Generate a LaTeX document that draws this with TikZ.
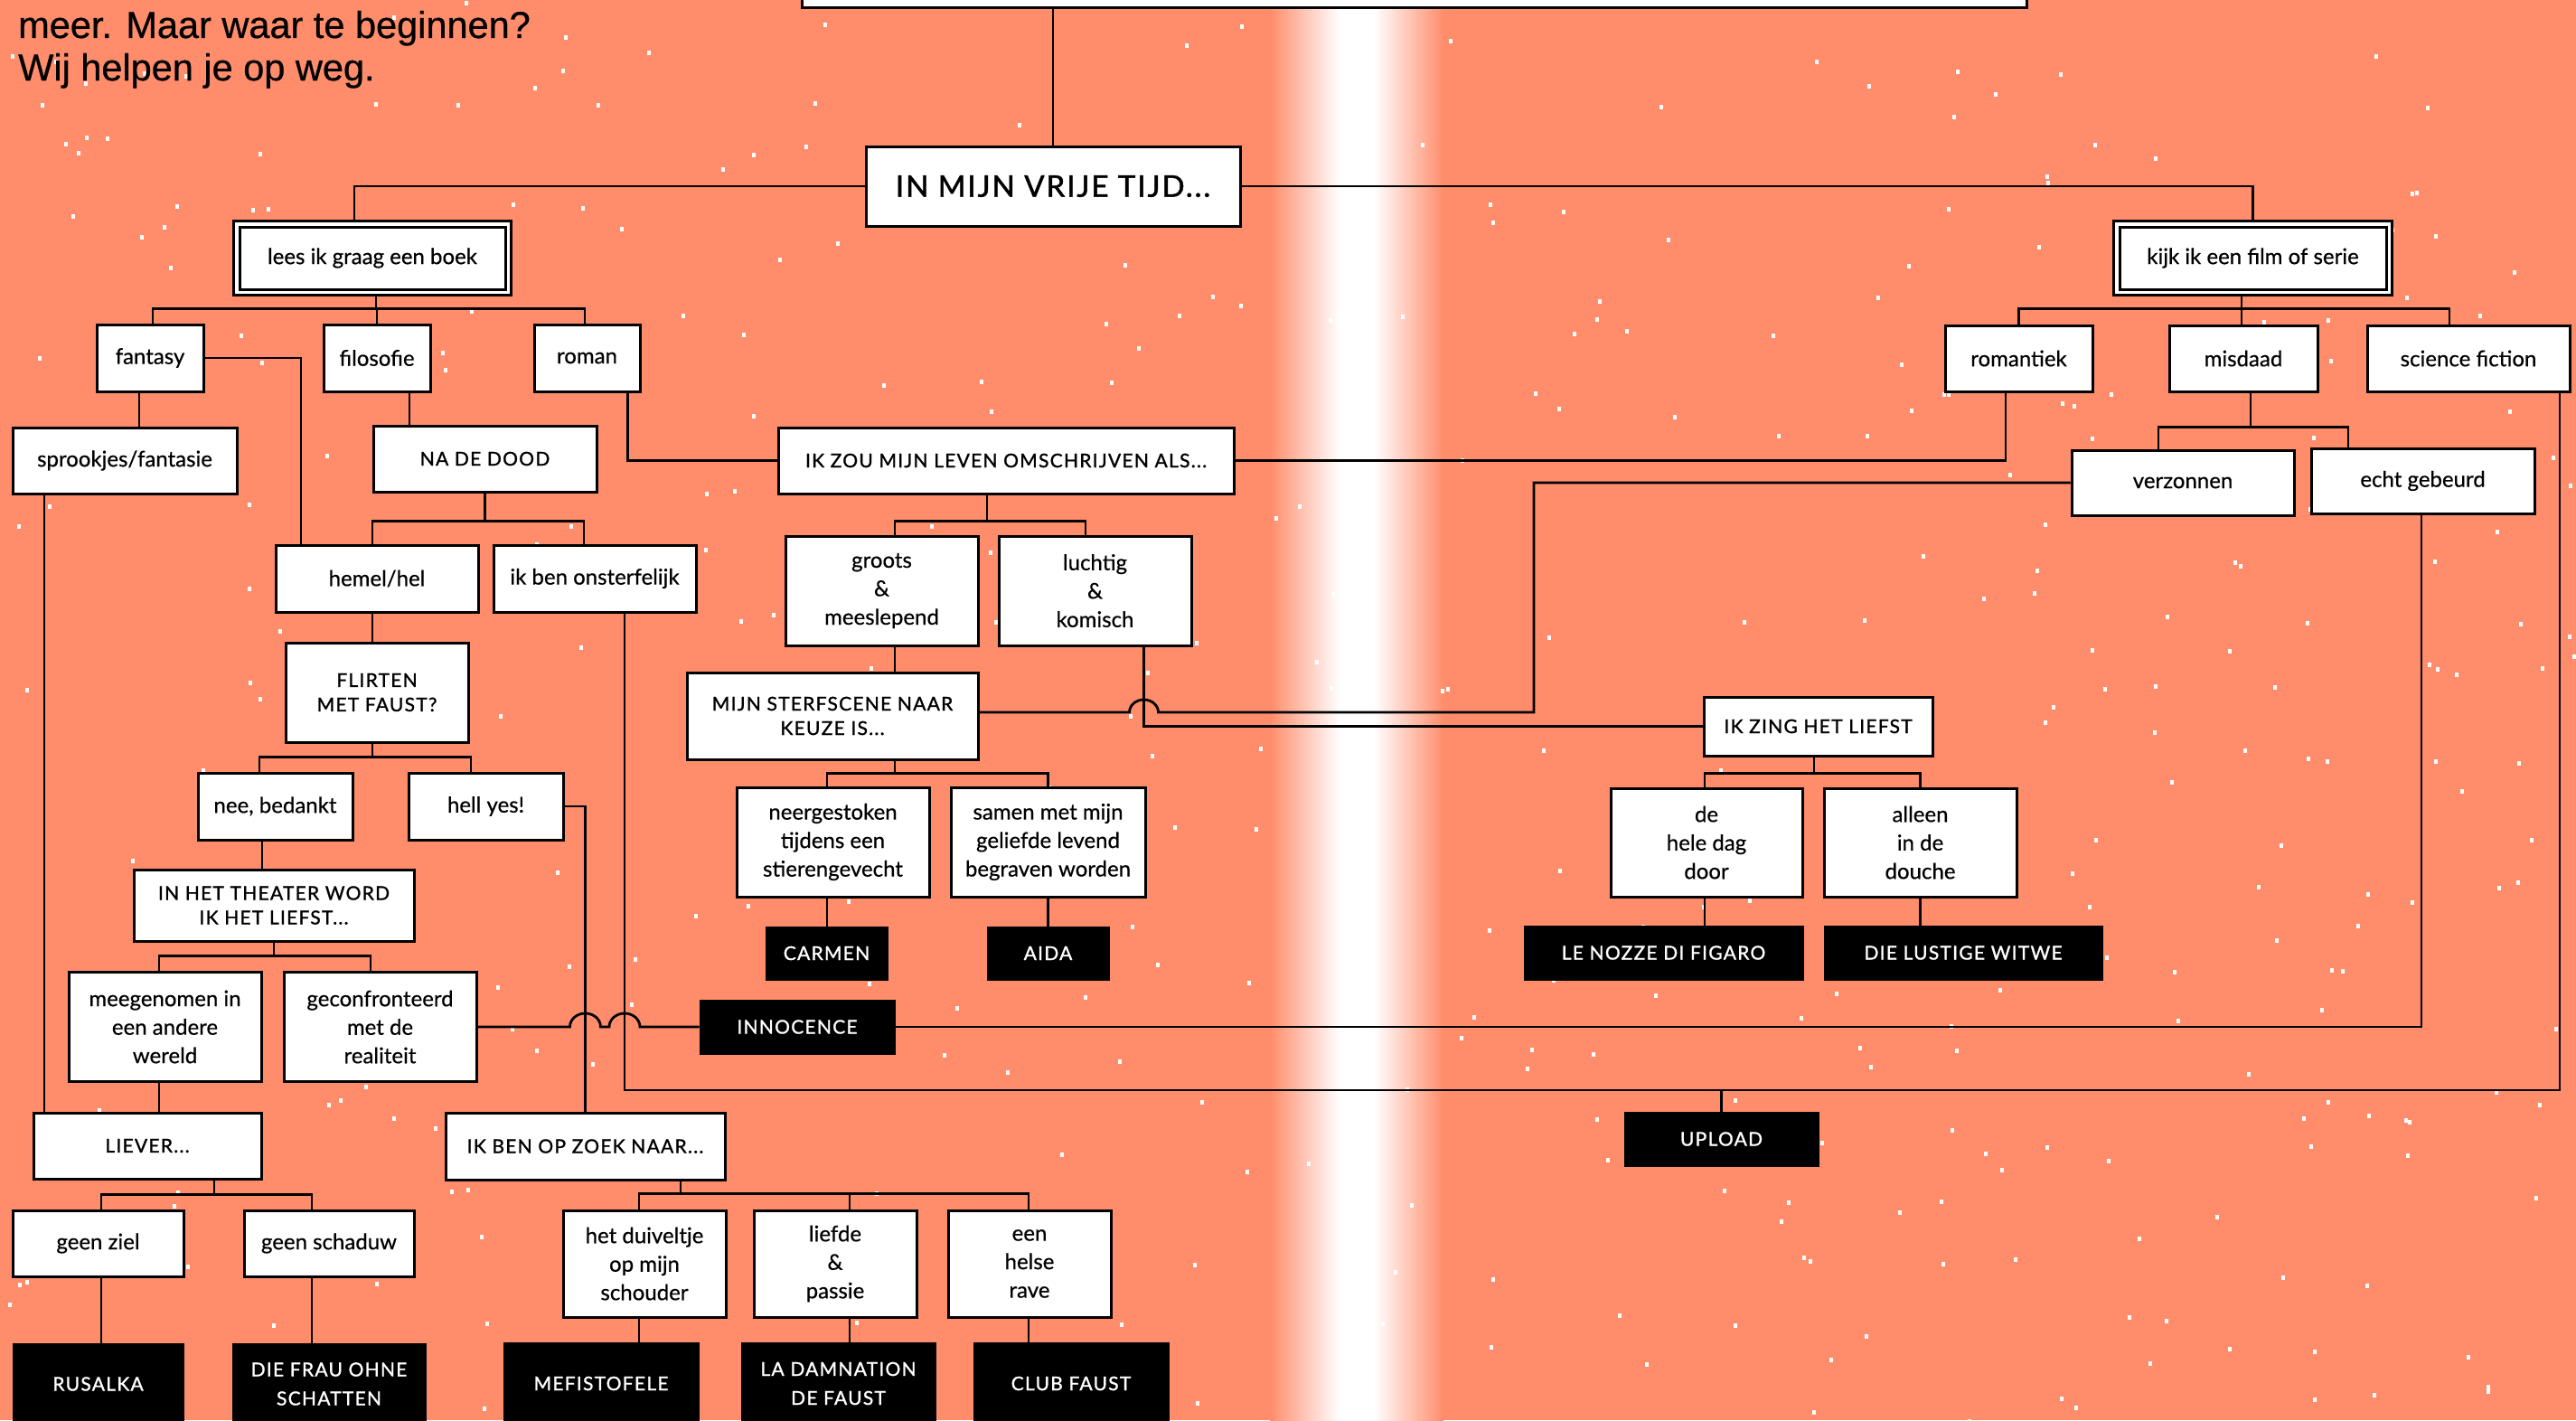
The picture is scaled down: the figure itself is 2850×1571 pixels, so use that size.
\documentclass[tikz,border=0pt]{standalone}
\usepackage{fontspec}
\setmainfont{Lato}[FakeBold=0.5]
\newfontfamily\capsfam{Lato}[LetterSpace=6,FakeBold=1.2]
\newfontfamily\titlefam{Lato}[LetterSpace=6,FakeBold=1.5]
\newfontfamily\introfam{Liberation Sans}[FakeBold=0.6]
\usetikzlibrary{calc}
\definecolor{salmon}{RGB}{255,141,108}
\newcommand\lowtxt{\fontsize{24}{31.5}\selectfont}
\newcommand\captxt{\capsfam\fontsize{21}{27}\selectfont}
\newcommand\blktxt{\capsfam\fontsize{21}{32}\selectfont}
\newcommand\titletxt{\titlefam\fontsize{33}{40}\selectfont}
\pgfdeclarelayer{back}
\pgfdeclarelayer{lines}
\pgfdeclarelayer{frames}
\pgfsetlayers{back,lines,frames,main}
\begin{document}
\begin{tikzpicture}[x=1pt,y=-1pt,
  box/.style={draw=black, fill=white, line width=3pt, inner sep=0pt, align=center, font=\lowtxt},
  capbox/.style={box, font=\captxt},
  blkbox/.style={draw=black, fill=black, text=white, line width=1pt, inner sep=0pt, align=center, font=\blktxt},
  sz/.style 2 args={minimum width=#1, minimum height=#2},
  conn/.style={draw=black, line width=2.8pt, line join=miter},
  frame/.style={draw=black, fill=white, line width=2.4pt}]
\useasboundingbox (0,0) rectangle (2850,1571);
\clip (0,0) rectangle (2850,1571);

% ---------- nodes ----------
\node[box, sz={1355}{58}] (topbox) at (1564.5,-20) {};
\node[box, sz={414}{88}, font=\titletxt] (vrij) at (1165,206) {IN MIJN VRIJE TIJD...};
\node[box, sz={294}{69}] (lees) at (412,285.5) {lees ik graag een boek};
\node[box, sz={295}{69}] (kijk) at (2492.5,285.5) {kijk ik een film of serie};

\node[box, sz={118}{74}] (fantasy) at (166,396) {fantasy};
\node[box, sz={118}{74}] (filosofie) at (417,396) {filosofie};
\node[box, sz={117}{74}] (roman) at (649.5,396) {roman};
\node[box, sz={163}{73}] (romantiek) at (2233.5,396.5) {romantiek};
\node[box, sz={164}{73}] (misdaad) at (2482,396.5) {misdaad};
\node[box, sz={224}{73}] (scifi) at (2731,396.5) {science fiction};

\node[box, sz={248}{73}] (sprookjes) at (138,509.5) {sprookjes/fantasie};
\node[capbox, sz={247}{73}] (nadedood) at (536.5,507.5) {NA DE DOOD};
\node[capbox, sz={504}{73}] (izou) at (1113,509.5) {IK ZOU MIJN LEVEN OMSCHRIJVEN ALS...};
\node[box, sz={246}{72}] (verzonnen) at (2415,534) {verzonnen};
\node[box, sz={247}{72}] (echt) at (2680.5,532) {echt gebeurd};

\node[box, sz={224}{74}] (hemel) at (417,640) {hemel/hel};
\node[box, sz={224}{74}] (onsterf) at (658,640) {ik ben onsterfelijk};
\node[box, sz={213}{121}] (groots) at (975.5,653.5) {groots\\\&\\meeslepend};
\node[box, sz={213}{121}] (luchtig) at (1211.5,653.5) {luchtig\\\&\\komisch};

\node[capbox, sz={202}{110}] (flirten) at (417,766) {FLIRTEN\\MET FAUST?};
\node[capbox, sz={322}{96}] (sterf) at (921,792) {MIJN STERFSCENE NAAR\\KEUZE IS...};
\node[capbox, sz={253}{65}] (izing) at (2011.5,803.5) {IK ZING HET LIEFST};

\node[box, sz={171}{74}] (nee) at (304.5,892) {nee, bedankt};
\node[box, sz={171}{74}] (hell) at (537.5,892) {hell yes!};
\node[box, sz={213}{121}] (neer) at (921.5,931.5) {neergestoken\\tijdens een\\stierengevecht};
\node[box, sz={215}{121}] (samen) at (1159.5,931.5) {samen met mijn\\geliefde levend\\begraven worden};
\node[box, sz={212}{120}] (dehele) at (1888,932) {de\\hele dag\\door};
\node[box, sz={213}{120}] (alleen) at (2124.5,932) {alleen\\in de\\douche};

\node[capbox, sz={310}{79}] (theater) at (303,1001.5) {IN HET THEATER WORD\\IK HET LIEFST...};
\node[blkbox, sz={135}{59}] (carmen) at (914.5,1054.5) {CARMEN};
\node[blkbox, sz={135}{59}] (aida) at (1159.5,1054.5) {AIDA};
\node[blkbox, sz={309}{60}] (nozze) at (1840.5,1054) {LE NOZZE DI FIGARO};
\node[blkbox, sz={308}{60}] (lustige) at (2172,1054) {DIE LUSTIGE WITWE};

\node[box, sz={213}{121}] (meeg) at (182.5,1136) {meegenomen in\\een andere\\wereld};
\node[box, sz={213}{121}] (geconf) at (420.5,1136) {geconfronteerd\\met de\\realiteit};
\node[blkbox, sz={216}{60}] (innocence) at (882,1136) {INNOCENCE};

\node[capbox, sz={252}{73}] (liever) at (163,1267.5) {LIEVER...};
\node[capbox, sz={309}{74}] (ikben) at (647.5,1268) {IK BEN OP ZOEK NAAR...};
\node[blkbox, sz={215}{60}] (upload) at (1904.5,1260) {UPLOAD};

\node[box, sz={189}{73}] (geenziel) at (108.5,1375.5) {geen ziel};
\node[box, sz={188}{73}] (geenschad) at (364,1375.5) {geen schaduw};
\node[box, sz={180}{118}] (duivel) at (713,1398) {het duiveltje\\op mijn\\schouder};
\node[box, sz={180}{118}] (liefde) at (924,1398) {liefde\\\&\\passie};
\node[box, sz={180}{118}] (rave) at (1139,1398) {een\\helse\\rave};

\node[blkbox, sz={189}{90}] (rusalka) at (108.5,1531) {RUSALKA};
\node[blkbox, sz={214}{90}] (diefrau) at (364,1531) {DIE FRAU OHNE\\SCHATTEN};
\node[blkbox, sz={216}{91}] (mefisto) at (665,1530.5) {MEFISTOFELE};
\node[blkbox, sz={215}{91}] (damnation) at (927.5,1530.5) {LA DAMNATION\\DE FAUST};
\node[blkbox, sz={216}{91}] (clubfaust) at (1185,1530.5) {CLUB FAUST};

% intro text
\node[anchor=base west, inner sep=0pt, font=\introfam\fontsize{41.5}{47}\selectfont] (intro1) at (20,42) {meer. Maar waar te beginnen?};
\node[anchor=base west, inner sep=0pt, font=\introfam\fontsize{41.5}{47}\selectfont] (intro2) at (20,89) {Wij helpen je op weg.};

% ---------- background ----------
\begin{pgfonlayer}{back}
  \fill[salmon] (0,0) rectangle (2850,1571);
  \shade[left color=salmon, right color=white] (1405,0) rectangle (1482,1571);
  \fill[white] (1481,0) rectangle (1521,1571);
  \shade[left color=white, right color=salmon] (1520,0) rectangle (1597,1571);
  \pgfmathsetseed{4711}
  \foreach \i in {1,...,450}{
    \pgfmathsetmacro\sx{rnd*2850}
    \pgfmathsetmacro\sy{rnd*1571}
    \fill[white] (\sx,\sy) rectangle ++(4,5);
  }
\end{pgfonlayer}

% ---------- double frames ----------
\begin{pgfonlayer}{frames}
  \draw[frame] ($(lees.north west)+(-5,-5)$) rectangle ($(lees.south east)+(5,5)$);
  \draw[frame] ($(kijk.north west)+(-5,-5)$) rectangle ($(kijk.south east)+(5,5)$);
\end{pgfonlayer}

% ---------- connectors ----------
\begin{pgfonlayer}{lines}
  \coordinate (lowline) at (0,1206);
  \coordinate (turnA) at (1697,0);
  \coordinate (lv) at ([xshift=54pt]luchtig.south);
  \coordinate (hopb) at ([xshift=33pt]onsterf.south);
  \coordinate (sterfout) at ([yshift=4pt]sterf.east);
  \coordinate (romtop) at ([xshift=-2.5pt]roman.north);

  \draw[conn] (vrij.north) -- (vrij.north |- topbox.south);
  \draw[conn] (vrij.west) -| ([xshift=-20pt]lees.north);
  \draw[conn] (vrij.east) -| (kijk.north);

  % lees fork
  \draw[conn] ([xshift=4pt]lees.south) -- ++(0,20) coordinate (lf);
  \draw[conn] ([xshift=3pt]fantasy.north) |- (romtop |- lf) -- (romtop);
  \draw[conn] (lf) -- (filosofie.north |- lf) -- (filosofie.north);

  \draw[conn] ([xshift=-12pt]fantasy.south) -- ([xshift=-12pt]fantasy.south |- sprookjes.north);
  \draw[conn] (fantasy.east) -| ([xshift=-84pt]hemel.north);
  \draw[conn] ([xshift=36pt]filosofie.south) -- ([xshift=36pt]filosofie.south |- nadedood.north);
  \draw[conn] ([xshift=45pt]roman.south) |- (izou.west);

  % na de dood fork
  \draw[conn] (nadedood.south) -- ++(0,31) coordinate (nf);
  \draw[conn] ([xshift=-5pt]hemel.north) |- (nf) -| ([xshift=-12pt]onsterf.north);
  \draw[conn] ([xshift=-5pt]hemel.south) -- ([xshift=-5pt]hemel.south |- flirten.north);

  % flirten fork
  \draw[conn] ([xshift=-5pt]flirten.south) -- ++(0,15) coordinate (ff);
  \draw[conn] ([xshift=-17.5pt]nee.north) |- (ff) -| ([xshift=-16.5pt]hell.north);
  \draw[conn] ([xshift=-14.5pt]nee.south) -- ([xshift=-14.5pt]nee.south |- theater.north);
  \draw[conn] (hell.east) -| (ikben.north);

  % onsterfelijk to low line
  \draw[conn] (hopb) |- ([xshift=101pt]scifi.south |- lowline) -- ([xshift=101pt]scifi.south);
  \draw[conn] (upload.north) -- (upload.north |- lowline);

  % theater fork
  \draw[conn] (theater.south) -- ++(0,15) coordinate (tf);
  \draw[conn] ([xshift=-6.5pt]meeg.north) |- (tf) -| ([xshift=-10.5pt]geconf.north);
  \draw[conn] ([xshift=-6.5pt]meeg.south) -- ([xshift=-6.5pt]meeg.south |- liever.north);
  \draw[conn] ([xshift=-89pt]sprookjes.south) -- ([xshift=-89pt]sprookjes.south |- liever.north);

  % liever fork
  \draw[conn] ([xshift=74pt]liever.south) -- ++(0,16) coordinate (lvf);
  \draw[conn] ([xshift=3.5pt]geenziel.north) |- (lvf) -| ([xshift=-19pt]geenschad.north);
  \draw[conn] ([xshift=3.5pt]geenziel.south) -- ([xshift=3.5pt]geenziel.south |- rusalka.north);
  \draw[conn] ([xshift=-19pt]geenschad.south) -- ([xshift=-19pt]geenschad.south |- diefrau.north);

  % ik ben op zoek fork
  \draw[conn] ([xshift=105.5pt]ikben.south) -- ++(0,14) coordinate (kf);
  \draw[conn] ([xshift=-6pt]duivel.north) |- (kf) -| ([xshift=-1pt]rave.north);
  \draw[conn] ([xshift=16pt]liefde.north) -- ([xshift=16pt]liefde.north |- kf);
  \draw[conn] ([xshift=-6pt]duivel.south) -- ([xshift=-6pt]duivel.south |- mefisto.north);
  \draw[conn] ([xshift=16pt]liefde.south) -- ([xshift=16pt]liefde.south |- damnation.north);
  \draw[conn] ([xshift=-1pt]rave.south) -- ([xshift=-1pt]rave.south |- clubfaust.north);

  % geconfronteerd -> innocence (hops) -> echt gebeurd
  \draw[conn] (geconf.east) -- ($(geconf.east -| ikben.north)+(-17,0)$)
     arc[start angle=180, end angle=0, x radius=17pt, y radius=15pt]
     -- ($(geconf.east -| hopb)+(-17,0)$)
     arc[start angle=180, end angle=0, x radius=17pt, y radius=15pt]
     -- (innocence.west);
  \draw[conn] (innocence.east) -| ([xshift=-1.5pt]echt.south);

  % ik zou fork
  \draw[conn] ([xshift=-21pt]izou.south) -- ++(0,29) coordinate (zf);
  \draw[conn] ([xshift=14.5pt]groots.north) |- (zf) -| ([xshift=-10.5pt]luchtig.north);
  \draw[conn] ([xshift=14.5pt]groots.south) -- ([xshift=14.5pt]groots.south |- sterf.north);
  \draw[conn] (lv) |- (izing.west);
  \draw[conn] (sterfout) -- ($(sterfout -| lv)+(-16,0)$)
     arc[start angle=180, end angle=0, x radius=16pt, y radius=14pt]
     -- (sterfout -| turnA) |- (verzonnen.west);

  % sterfscene fork
  \draw[conn] ([xshift=69pt]sterf.south) -- ++(0,14) coordinate (sf);
  \draw[conn] ([xshift=-6.5pt]neer.north) |- (sf) -| (samen.north);
  \draw[conn] ([xshift=-6.5pt]neer.south) -- ([xshift=-6.5pt]neer.south |- carmen.north);
  \draw[conn] (samen.south) -- (samen.south |- aida.north);

  % ik zing fork
  \draw[conn] ([xshift=-4.5pt]izing.south) -- ++(0,18) coordinate (gf);
  \draw[conn] ([xshift=-2pt]dehele.north) |- (gf) -| (alleen.north);
  \draw[conn] ([xshift=-2pt]dehele.south) -- ([xshift=-2pt]dehele.south |- nozze.north);
  \draw[conn] (alleen.south) -- (alleen.south |- lustige.north);

  % kijk fork
  \draw[conn] ([xshift=-12.5pt]kijk.south) -- ++(0,20) coordinate (jf);
  \draw[conn] (romantiek.north) |- (jf) -| ([xshift=-21pt]scifi.north);
  \draw[conn] ([xshift=-2pt]misdaad.north) -- ([xshift=-2pt]misdaad.north |- jf);
  \draw[conn] ([xshift=-14.5pt]romantiek.south) |- (izou.east);

  % misdaad fork
  \draw[conn] ([xshift=8pt]misdaad.south) -- ++(0,38) coordinate (mf);
  \draw[conn] ([xshift=-27pt]verzonnen.north) |- (mf) -| ([xshift=-82.5pt]echt.north);
\end{pgfonlayer}
\end{tikzpicture}
\end{document}
